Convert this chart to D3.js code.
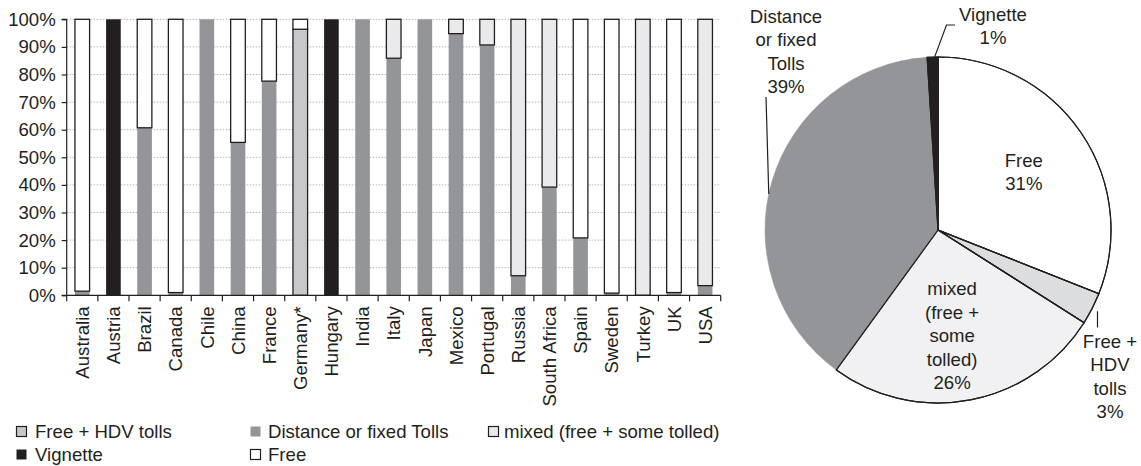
<!DOCTYPE html>
<html>
<head>
<meta charset="utf-8">
<script src="https://cdn.jsdelivr.net/npm/d3@7/dist/d3.min.js"></script>
<style>
  html, body { margin: 0; padding: 0; background: #fff; }
  svg { display: block; font-family: "Liberation Sans", Arial, sans-serif; }
  text { fill: #231f20; }
</style>
</head>
<body>
<svg id="chart" width="1141" height="466"></svg>
<script>
// Road charging schemes by country (% of network)
const countries = ["Australia", "Austria", "Brazil", "Canada", "Chile", "China", "France", "Germany*", "Hungary", "India", "Italy", "Japan", "Mexico", "Portugal", "Russia", "South Africa", "Spain", "Sweden", "Turkey", "UK", "USA"];
const freeHdv   = [0, 0, 0, 0, 0, 0, 0, 96.4, 0, 0, 0, 0, 0, 0, 0, 0, 0, 0, 0, 0, 0];
const distance  = [1.5, 0, 60.7, 1, 100, 55.4, 77.6, 0, 0, 100, 85.9, 100, 94.8, 90.7, 7.1, 39.2, 20.8, 0.8, 0, 1, 3.5];
const vignette  = [0, 100, 0, 0, 0, 0, 0, 0, 100, 0, 0, 0, 0, 0, 0, 0, 0, 0, 0, 0, 0];
const mixed     = [0, 0, 0, 0, 0, 0, 0, 0, 0, 0, 14.1, 0, 5.2, 9.3, 92.9, 60.8, 0, 0, 100, 0, 96.5];
const free      = [98.5, 0, 39.3, 99, 0, 44.6, 22.4, 3.6, 0, 0, 0, 0, 0, 0, 0, 0, 79.2, 99.2, 0, 99, 0];
const yTicks    = [0, 10, 20, 30, 40, 50, 60, 70, 80, 90, 100];

// Overall split across all countries
const pieLabels = ["Free", "Free + HDV tolls", "mixed (free + some tolled)", "Distance or fixed Tolls", "Vignette"];
const pieValues = [31, 3, 26, 39, 1];

const seriesKeys   = ["Free + HDV tolls", "Distance or fixed Tolls", "Vignette", "mixed (free + some tolled)", "Free"];
const seriesValues = [freeHdv, distance, vignette, mixed, free];

const barFill = {
  "Free + HDV tolls": "#c7c8ca",
  "Distance or fixed Tolls": "#939598",
  "Vignette": "#231f20",
  "mixed (free + some tolled)": "#eaeaec",
  "Free": "#ffffff"
};
const pieFill = {
  "Free + HDV tolls": "#dcdddf",
  "Distance or fixed Tolls": "#939598",
  "Vignette": "#231f20",
  "mixed (free + some tolled)": "#f1f1f3",
  "Free": "#ffffff"
};
const outlined = new Set(["Free + HDV tolls", "mixed (free + some tolled)", "Free"]);
const ink = "#231f20";
const fs = 18.6;

const svg = d3.select("#chart");

// ---------- stacked bars ----------
const plot = { left: 66.7, right: 720.7, top: 19.3, bottom: 295.3 };

const x = d3.scaleBand().domain(countries).range([plot.left, plot.right])
  .paddingInner(0.53).paddingOuter(0.265);
const y = d3.scaleLinear().domain([0, 100]).range([plot.bottom, plot.top]);

const rows = countries.map((c, i) => {
  const r = { country: c };
  seriesKeys.forEach((k, j) => r[k] = seriesValues[j][i]);
  return r;
});
const stacked = d3.stack().keys(seriesKeys)(rows);

// dotted gridlines
svg.append("g").selectAll("line").data(yTicks.filter(t => t > 0)).join("line")
  .attr("x1", plot.left).attr("x2", plot.right)
  .attr("y1", d => y(d)).attr("y2", d => y(d))
  .attr("stroke", "#b5b5b5").attr("stroke-width", 1)
  .attr("stroke-dasharray", "1.5,1.5");

const barsG = svg.append("g");
stacked.forEach(layer => {
  const key = layer.key;
  barsG.append("g").selectAll("rect")
    .data(layer.filter(d => d[1] - d[0] > 0))
    .join("rect")
    .attr("x", d => x(d.data.country))
    .attr("width", x.bandwidth())
    .attr("y", d => y(d[1]))
    .attr("height", d => y(d[0]) - y(d[1]))
    .attr("fill", barFill[key])
    .attr("stroke", outlined.has(key) ? ink : "none")
    .attr("stroke-width", outlined.has(key) ? 1.3 : 0);
});

// y axis
const yAxis = d3.axisLeft(y).tickValues(yTicks).tickSize(5).tickFormat(d => d + "%");
const yg = svg.append("g").attr("transform", `translate(${plot.left},0)`).call(yAxis);
yg.select(".domain").attr("stroke", ink).attr("stroke-width", 1.2).attr("d", `M-5,${plot.bottom}H0V${plot.top}H-5`);
yg.selectAll(".tick line").attr("stroke", ink).attr("stroke-width", 1.2);
yg.selectAll(".tick text").attr("x", -11).attr("font-size", fs).attr("fill", ink)
  .attr("font-family", "Liberation Sans, Arial, sans-serif");

// x axis: baseline with ticks between categories
const step = x.step();
const bounds = d3.range(countries.length + 1).map(i => plot.left + i * step);
const xg = svg.append("g");
xg.append("line").attr("x1", plot.left).attr("x2", plot.right)
  .attr("y1", plot.bottom).attr("y2", plot.bottom)
  .attr("stroke", ink).attr("stroke-width", 1.2);
xg.selectAll("line.tk").data(bounds).join("line").attr("class", "tk")
  .attr("x1", d => d).attr("x2", d => d)
  .attr("y1", plot.bottom).attr("y2", plot.bottom + 6)
  .attr("stroke", ink).attr("stroke-width", 1.2);
xg.selectAll("text").data(countries).join("text")
  .attr("transform", d => `translate(${x(d) + x.bandwidth() / 2},${plot.bottom + 11}) rotate(-90)`)
  .attr("text-anchor", "end").attr("dy", "0.36em")
  .attr("font-size", fs).text(d => d);

// legend
const legendItems = [
  { key: "Free + HDV tolls", col: 0, row: 0 },
  { key: "Distance or fixed Tolls", col: 1, row: 0 },
  { key: "mixed (free + some tolled)", col: 2, row: 0 },
  { key: "Vignette", col: 0, row: 1 },
  { key: "Free", col: 1, row: 1 }
];
const legendCols = [16.5, 250.5, 488.5];
const legendRows = [426.5, 449.5];
const lg = svg.append("g");
legendItems.forEach(it => {
  const g = lg.append("g").attr("transform", `translate(${legendCols[it.col]},${legendRows[it.row]})`);
  g.append("rect").attr("width", 10).attr("height", 10)
    .attr("fill", barFill[it.key])
    .attr("stroke", outlined.has(it.key) ? ink : "none").attr("stroke-width", 1.2);
  g.append("text").attr("x", it.col === 0 ? 18.5 : (it.col === 1 ? 17.5 : 15.5)).attr("y", 5).attr("dy", "0.36em")
    .attr("font-size", fs).text(it.key);
});

// ---------- pie ----------
const pc = { cx: 938, cy: 230, r: 173 };
const pieData = pieLabels.map((l, i) => ({ label: l, value: pieValues[i] }));
const arcs = d3.pie().sort(null).value(d => d.value)(pieData);
const arc = d3.arc().innerRadius(0).outerRadius(pc.r);
const pg = svg.append("g").attr("transform", `translate(${pc.cx},${pc.cy})`);

pg.selectAll("path").data(arcs).join("path")
  .attr("d", arc)
  .attr("fill", d => pieFill[d.data.label])
  .attr("stroke", d => d.data.label === "Distance or fixed Tolls" ? pieFill[d.data.label] : ink)
  .attr("stroke-width", d => d.data.label === "Distance or fixed Tolls" ? 0.5 : 1.2)
  .attr("stroke-linejoin", "round");
// redraw the light slice edges on top of the grey slice
pg.append("g").selectAll("path").data(arcs.filter(d => d.data.label !== "Distance or fixed Tolls")).join("path")
  .attr("d", arc).attr("fill", "none").attr("stroke", ink).attr("stroke-width", 1.2);

const pt = (angle, rad) => [Math.sin(angle) * rad, -Math.cos(angle) * rad];
const mid = d => (d.startAngle + d.endAngle) / 2;
const lineH = 23.5;

function block(g, lines, cx, cy) {
  const t = g.append("text").attr("text-anchor", "middle").attr("font-size", fs);
  const y0 = cy - (lines.length - 1) * lineH / 2;
  lines.forEach((s, i) => t.append("tspan").attr("x", cx).attr("y", y0 + i * lineH).attr("dy", "0.36em").text(s));
}

const byLabel = {};
arcs.forEach(a => byLabel[a.data.label] = a);
const pct = l => byLabel[l].data.value + "%";

// inside labels
{
  const a = byLabel["Free"];
  const [lx, ly] = pt(mid(a), pc.r * 0.6);
  block(pg, ["Free", pct("Free")], lx, ly);
}
{
  const a = byLabel["mixed (free + some tolled)"];
  const [lx, ly] = pt(mid(a), pc.r * 0.62);
  block(pg, ["mixed", "(free +", "some", "tolled)", pct("mixed (free + some tolled)")], lx - 6, ly);
}

// outside labels with leader lines
const leader = (pts) => pg.append("path").attr("d", d3.line()(pts))
  .attr("fill", "none").attr("stroke", ink).attr("stroke-width", 1.2);

{
  const a = byLabel["Distance or fixed Tolls"];
  const e = pt(d3.interpolate(a.startAngle, a.endAngle)(0.47), pc.r);
  leader([e, [766 - pc.cx, 97 - pc.cy]]);
  block(pg, ["Distance", "or fixed", "Tolls", pct("Distance or fixed Tolls")], 786 - pc.cx, 51.5 - pc.cy);
}
{
  const a = byLabel["Vignette"];
  const e = pt(mid(a), pc.r);
  leader([[e[0] + 2, e[1]], [946.5 - pc.cx, 25 - pc.cy], [955 - pc.cx, 25 - pc.cy]]);
  block(pg, ["Vignette", pct("Vignette")], 993 - pc.cx, 26 - pc.cy);
}
{
  const a = byLabel["Free + HDV tolls"];
  const e = pt(mid(a), pc.r + 6);
  leader([e, [e[0], 327.5 - pc.cy]]);
  block(pg, ["Free +", "HDV", "tolls", pct("Free + HDV tolls")], 1110 - pc.cx, 376.5 - pc.cy);
}
</script>
</body>
</html>
